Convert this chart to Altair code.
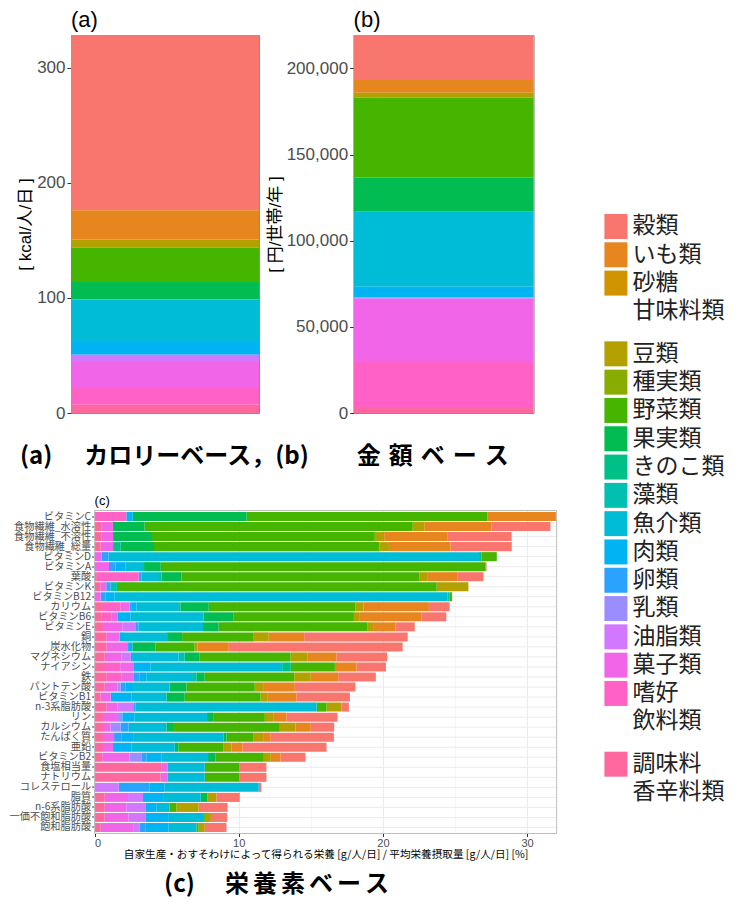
import math
import altair as alt
import pandas as pd

# ---------------- data ----------------
categories = ["穀類", "いも類", "砂糖甘味料類", "豆類", "種実類", "野菜類", "果実類", "きのこ類",
              "藻類", "魚介類", "肉類", "卵類", "乳類", "油脂類", "菓子類", "嗜好飲料類", "調味料香辛料類"]
legend_line1 = ["穀類", "いも類", "砂糖", "豆類", "種実類", "野菜類", "果実類", "きのこ類",
                "藻類", "魚介類", "肉類", "卵類", "乳類", "油脂類", "菓子類", "嗜好", "調味料"]
legend_line2 = ["", "", "甘味料類", "", "", "", "", "", "", "", "", "", "", "", "", "飲料類", "香辛料類"]

# (a) kcal / person / day
kcal_a = [152.2, 25.5, 0, 6.9, 0, 29.9, 15.3, 0, 0, 36.9, 11.0, 0, 0, 6.4, 22.6, 14.5, 7.2]
# (b) yen / household / year
yen_b = [26140, 7350, 0, 2710, 0, 46470, 19940, 0, 0, 43560, 6200, 0, 400, 375, 36600, 26720, 2900]

# (c) nutrients
nutrients = ["ビタミンC", "食物繊維_水溶性", "食物繊維_不溶性", "食物繊維_総量", "ビタミンD", "ビタミンA",
             "葉酸", "ビタミンK", "ビタミンB12", "カリウム", "ビタミンB6", "ビタミンE", "銅", "炭水化物",
             "マグネシウム", "ナイアシン", "鉄", "パントテン酸", "ビタミンB1", "n-3系脂肪酸", "リン",
             "カルシウム", "たんぱく質", "亜鉛", "ビタミンB2", "食塩相当量", "ナトリウム", "コレステロール",
             "脂質", "n-6系脂肪酸", "一価不飽和脂肪酸", "飽和脂肪酸"]
c_grain = [0, 4.1, 4.47, 4.24, 0, 0.1, 1.83, 0, 0, 1.44, 1.71, 1.34, 7.18, 12.06, 3.52, 2.04,
           2.61, 4.21, 3.71, 0.51, 3.54, 1.62, 4.38, 5.83, 1.73, 1.89, 1.89, 0.18, 1.62, 2.0, 1.13, 1.51]
c_potato = [4.75, 4.65, 4.37, 4.28, 0, 0, 2.08, 0, 0, 4.53, 4.29, 1.55, 2.46, 2.18, 2.03, 1.5,
            1.9, 2.2, 2.03, 0, 0.88, 1.06, 0.53, 0.77, 0.68, 0, 0, 0, 0, 0, 0, 0]
c_sugar = [0, 0, 0, 0, 0, 0, 0, 0, 0, 0, 0, 0, 0, 0, 0, 0,
           0, 0, 0, 0, 0, 0, 0, 0, 0, 0, 0, 0, 0, 0, 0, 0]
c_bean = [0, 0.8, 0.65, 0.67, 0, 0, 0.55, 2.2, 0, 0.56, 0.41, 0.41, 1.04, 0.19, 1.16, 0,
          1.15, 0.58, 0.46, 1.04, 0.62, 1.09, 0.69, 0.57, 0.48, 0, 0, 0, 0.62, 1.55, 0.42, 0.42]
c_nut = [0, 0, 0, 0, 0, 0, 0, 0, 0, 0, 0, 0, 0, 0, 0, 0,
         0, 0, 0, 0, 0, 0, 0, 0, 0, 0, 0, 0, 0, 0, 0, 0]
c_veg = [16.7, 18.6, 15.46, 15.63, 1.05, 22.5, 16.5, 22.18, 0.19, 10.18, 8.34, 10.31, 4.97, 2.72, 6.3, 3.06,
         6.21, 4.74, 5.26, 0.69, 3.54, 7.41, 1.85, 3.09, 3.36, 2.39, 2.39, 0, 0, 0.46, 0.12, 0.16]
c_fruit = [7.9, 2.2, 2.7, 2.31, 0, 1.16, 1.39, 0, 0, 1.97, 2.08, 1.08, 1.04, 1.6, 1.04, 0,
           0.58, 1.16, 1.27, 0, 0.47, 0.46, 0.19, 0.27, 0.51, 0, 0, 0, 0.47, 0, 0, 0]
c_mushroom = [0, 0, 0, 0.53, 0.18, 0, 0, 0, 0, 0, 0, 0, 0, 0, 0, 0.6,
              0, 0, 0, 0, 0, 0, 0, 0, 0, 0, 0, 0, 0, 0, 0, 0]
c_algae = [0, 0, 0, 0, 0, 0, 0.23, 0.44, 0.14, 0.16, 0, 0, 0, 0, 0.42, 0,
           0.3, 0, 0, 0, 0, 0, 0, 0, 0, 0, 0, 0, 0, 0, 0, 0]
c_fish = [0, 0, 0, 0, 25.7, 1.27, 1.16, 0, 23.08, 2.89, 5.07, 4.47, 2.99, 0, 3.17, 9.12,
          3.17, 2.48, 2.43, 12.57, 5.02, 2.62, 6.29, 3.01, 3.24, 2.59, 2.59, 6.53, 2.61, 0.93, 2.43, 1.92]
c_meat = [0.45, 0, 0, 0, 0, 0.7, 0, 0, 0.63, 0.31, 0.92, 0, 0.3, 0.3, 0.16, 1.16,
          0.46, 0.6, 1.44, 0, 0.86, 0, 0.82, 1.27, 1.04, 0, 0, 1.04, 1.39, 0.76, 1.58, 1.62]
c_egg = [0, 0, 0, 0, 0.5, 0.46, 0.18, 0.3, 0.34, 0.16, 0, 0.23, 0, 0, 0, 0,
         0.4, 0.32, 0, 0.1, 0, 0.55, 0.5, 0, 0.35, 0, 0, 2.15, 0, 0, 0, 0.39]
c_milk = [0, 0, 0, 0, 0, 0, 0, 0, 0, 0, 0, 0, 0, 0, 0, 0,
          0, 0.23, 0, 0, 0.3, 0.7, 0, 0, 0.81, 0, 0, 0, 0, 0, 0, 0]
c_oil = [0, 0, 0, 0, 0, 0, 0, 0, 0, 0, 0, 0.9, 0, 0, 0.65, 0,
         0, 0, 0, 1.15, 0, 0, 0, 0, 0, 0, 0, 1.67, 1.04, 1.32, 1.16, 0.46]
c_sweets = [0, 0.8, 0.81, 0.86, 0.47, 0.9, 0, 0.39, 0.42, 0.62, 0.42, 1.34, 0.93, 1.51, 1.15, 0.95,
            0.88, 0.88, 0.69, 0.77, 1.04, 0.53, 0.77, 0.7, 1.9, 0.42, 0.47, 0, 1.62, 1.5, 1.66, 2.25]
c_drink = [2.2, 0, 0, 0, 0, 0, 2.9, 0, 0, 1.23, 0.66, 0, 0, 0, 0, 1.2,
           1.04, 0, 0, 0, 0, 0, 0, 0, 0, 0, 0, 0, 0, 0, 0, 0]
c_season = [0, 0.47, 0.47, 0.42, 0, 0.1, 0.16, 0.42, 0, 0.58, 0.5, 0.58, 0.81, 0.81, 0.7, 0.58,
            0.81, 0.7, 0.42, 0.81, 0.58, 0.58, 0.58, 0.58, 0.53, 4.63, 4.58, 0, 0.7, 0.7, 0.7, 0.42]

c_columns = [c_grain, c_potato, c_sugar, c_bean, c_nut, c_veg, c_fruit, c_mushroom, c_algae,
             c_fish, c_meat, c_egg, c_milk, c_oil, c_sweets, c_drink, c_season]

caption_ab = "(a)\u3000\u2004カロリーベース，(b)\u3000\u3000金\u2004額\u2004ベ\u2004ー\u2004ス"
caption_c = "(c)\u3000\u2005栄\u2006養\u2006素\u2006ベ\u2006ー\u2006ス"
x_title_c = "自家生産・おすそわけによって得られる栄養 [g/人/日] / 平均栄養摂取量 [g/人/日] [%]"


# ---------------- palette (ggplot2 default hue palette) ----------------
def hcl_to_hex(h, c=100.0, l=65.0):
    xn, yn, zn = 95.047, 100.0, 108.883
    den = xn + 15 * yn + 3 * zn
    un, vn = 4 * xn / den, 9 * yn / den
    hr = math.radians(h)
    u, v = c * math.cos(hr), c * math.sin(hr)
    y = yn * ((l + 16) / 116) ** 3
    up = u / (13 * l) + un
    vp = v / (13 * l) + vn
    x = 9.0 * y * up / (4 * vp)
    z = -x / 3 - 5 * y + 3 * y / vp
    x, y, z = x / 100, y / 100, z / 100
    rl = 3.240479 * x - 1.537150 * y - 0.498535 * z
    gl = -0.969256 * x + 1.875992 * y + 0.041556 * z
    bl = 0.055648 * x - 0.204043 * y + 1.057311 * z

    def gam(t):
        t = 1.055 * t ** (1 / 2.4) - 0.055 if t > 0.0031308 else 12.92 * t
        return min(1.0, max(0.0, t))

    return "#%02X%02X%02X" % tuple(int(round(255 * gam(t))) for t in (rl, gl, bl))


n_cat = len(categories)
palette = [hcl_to_hex(15 + i * 360.0 / n_cat) for i in range(n_cat)]
color_scale = alt.Scale(domain=categories, range=palette)

FONT_LAT = "Liberation Sans, Noto Sans CJK JP"
FONT_JP = "Noto Sans CJK JP"

# ---------------- panels (a) and (b) ----------------
stack_order = [n_cat - 1 - i for i in range(n_cat)]


def column_panel(values, key, title, ytitle, ticks, fmt, width, tpad):
    df = pd.DataFrame({"cat": categories, "val": values, "ord": stack_order, "panel": key})
    return alt.Chart(df).mark_bar().encode(
        x=alt.X("panel:N", axis=None, scale=alt.Scale(paddingInner=0, paddingOuter=0)),
        y=alt.Y("val:Q", stack="zero", scale=alt.Scale(nice=False, zero=True),
                axis=alt.Axis(values=ticks, format=fmt, title=ytitle, grid=False, domain=False,
                              tickSize=4, tickColor="#333333", labelPadding=2,
                              labelFont="Liberation Sans", labelFontSize=17, labelColor="#4D4D4D",
                              titleFont=FONT_LAT, titleFontSize=17, titleFontWeight="normal",
                              titleColor="#000000", titlePadding=tpad)),
        color=alt.Color("cat:N", scale=color_scale, legend=None),
        order=alt.Order("ord:Q", sort="ascending"),
    ).properties(
        width=width, height=378,
        title=alt.Title(title, anchor="start", frame="group", font="Liberation Sans", fontSize=22,
                        fontWeight="normal", color="#000000", offset=3),
        view=alt.ViewBackground(stroke="#8C8C8C", strokeWidth=1),
    )


panel_a = column_panel(kcal_a, "a", "(a)", "[ kcal/人/日 ]", [0, 100, 200, 300], "d", 188, 2)
panel_b = column_panel(yen_b, "b", "(b)", "[ 円/世帯/年 ]", [0, 50000, 100000, 150000, 200000], ",d", 180, 2)

top_row = alt.hconcat(panel_a, panel_b, spacing=5.6).properties(
    title=alt.Title(caption_ab, orient="bottom", anchor="start", dx=3.9, offset=23, baseline="top",
                    font=FONT_JP, fontSize=24, fontWeight="bold", color="#000000")
)

# ---------------- panel (c) ----------------
C_SHIFT = 23.6          # left inset of the plotting frame inside the view
C_W = 485.6             # view width (frame spans C_SHIFT .. C_W)
C_H = 323

rows = []
for ci, cat in enumerate(categories):
    for ni, nut in enumerate(nutrients):
        rows.append({"nutrient": nut, "cat": cat, "val": c_columns[ci][ni], "ord": n_cat - 1 - ci})
df_c = pd.DataFrame(rows)
df_nut = pd.DataFrame({"nutrient": nutrients})

y_scale_c = alt.Scale(domain=nutrients, paddingInner=0.1, paddingOuter=0.15)
x_scale_c = alt.Scale(domain=[0, 32.05], range=[C_SHIFT, C_W], nice=False, zero=True)
y_axis_c = alt.Axis(title=None, labelFont=FONT_JP, labelFontSize=10.2, labelColor="#4D4D4D",
                    tickSize=3, tickColor="#333333", labelPadding=1, domain=False, grid=False,
                    offset=-C_SHIFT)
x_axis_c = alt.Axis(values=[0, 5, 10, 15, 20, 25, 30],
                    labelExpr="datum.value % 10 === 0 ? datum.label : ''",
                    tickSize=3, labelPadding=1, domain=False, grid=True,
                    gridColor={"condition": {"test": "datum.value % 10 === 0", "value": "#EBEBEB"},
                               "value": "#F5F5F5"},
                    tickColor={"condition": {"test": "datum.value % 10 === 0", "value": "#333333"},
                               "value": "rgba(0,0,0,0)"},
                    labelFont="Liberation Sans", labelFontSize=11, labelColor="#4D4D4D",
                    title=x_title_c, titleFont=FONT_JP, titleFontSize=10.6,
                    titleFontWeight="normal", titleColor="#000000", titlePadding=1,
                    titleX=C_SHIFT + (C_W - C_SHIFT) / 2)

grid_c = alt.Chart(df_nut).mark_rule(color="#EBEBEB", strokeWidth=1).encode(
    y=alt.Y("nutrient:N", scale=y_scale_c, axis=y_axis_c),
    x=alt.value(C_SHIFT), x2=alt.value(C_W),
)
bars_c = alt.Chart(df_c).mark_bar().encode(
    y=alt.Y("nutrient:N", scale=y_scale_c, axis=y_axis_c),
    x=alt.X("val:Q", stack="zero", scale=x_scale_c, axis=x_axis_c),
    color=alt.Color("cat:N", scale=color_scale, legend=None),
    order=alt.Order("ord:Q", sort="ascending"),
)
frame_c = alt.Chart(pd.DataFrame({"k": [0]})).mark_rect(
    fill="transparent", stroke="#BDBDBD", strokeWidth=1
).encode(x=alt.value(C_SHIFT), x2=alt.value(C_W), y=alt.value(0), y2=alt.value(C_H))

panel_c = alt.layer(grid_c, bars_c, frame_c).properties(
    width=C_W, height=C_H,
    title=alt.Title("(c)", anchor="start", frame="group", dx=C_SHIFT, font="Liberation Sans",
                    fontSize=13, fontWeight="normal", color="#000000", offset=2),
)

c_wrap = alt.hconcat(panel_c).properties(
    title=alt.Title(caption_c, orient="bottom", anchor="start", dx=155.5, offset=12.4, baseline="top",
                    font=FONT_JP, fontSize=24, fontWeight="bold", color="#000000")
)

left_col = alt.vconcat(top_row, c_wrap, spacing=25.5)

# ---------------- manual legend ----------------
slots = []
s = 0.0
for l2 in legend_line2:
    slots.append(s)
    s += 2.5 if l2 else 1.0
df_leg = pd.DataFrame({"cat": categories, "line1": legend_line1, "line2": legend_line2, "slot": slots})
LEG_H = 840
leg_top = -6.325
leg_scale = alt.Scale(domain=[leg_top, leg_top + LEG_H / 28.3], reverse=True, nice=False, zero=False)

keys = alt.Chart(df_leg).transform_calculate(slot_end="datum.slot + 0.883").mark_rect().encode(
    x=alt.value(0), x2=alt.value(23),
    y=alt.Y("slot:Q", scale=leg_scale, axis=None), y2="slot_end:Q",
    color=alt.Color("cat:N", scale=color_scale, legend=None),
)
text1 = alt.Chart(df_leg).transform_calculate(ymid="datum.slot + 0.44").mark_text(
    align="left", baseline="middle", font=FONT_JP, fontSize=23, color="#222222"
).encode(x=alt.value(28), y=alt.Y("ymid:Q", scale=leg_scale, axis=None), text="line1:N")
text2 = alt.Chart(df_leg).transform_filter("datum.line2 !== ''").transform_calculate(
    ymid="datum.slot + 1.41").mark_text(
    align="left", baseline="middle", font=FONT_JP, fontSize=23, color="#222222"
).encode(x=alt.value(28), y=alt.Y("ymid:Q", scale=leg_scale, axis=None), text="line2:N")

legend_chart = alt.layer(keys, text1, text2).properties(width=122, height=LEG_H)

chart = alt.hconcat(left_col, legend_chart, spacing=45.4).properties(
    padding={"left": 0, "top": 0, "right": 0, "bottom": 4},
    background="white",
).configure_view(stroke="transparent")

chart.save("out.html", embed_options={"renderer": "svg", "actions": False})
